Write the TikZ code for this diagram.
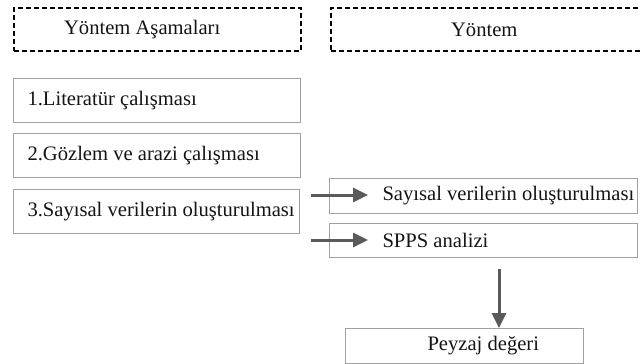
\documentclass[tikz,border=0pt]{standalone}
\usepackage{fontspec}
\setmainfont{Liberation Serif}
\usetikzlibrary{arrows.meta}
\definecolor{boxgray}{HTML}{A0A0A0}
\definecolor{arrowgray}{HTML}{5A5A5A}
\definecolor{txt}{HTML}{141414}
\tikzset{
  gbox/.style={draw=boxgray, line width=1pt, anchor=north west, inner ysep=0pt, text=txt, font=\fontsize{20.6}{22}\selectfont},
  dbox/.style={draw=black, line width=2.2pt, dash pattern=on 5pt off 3pt, anchor=north west, inner ysep=0pt, text=txt, font=\fontsize{20.6}{22}\selectfont},
  arr/.style={draw=arrowgray, line width=3pt, -{Triangle[length=15pt,width=14pt]}}
}
\begin{document}
\begin{tikzpicture}[x=1pt,y=-1pt]
\useasboundingbox (0,0) rectangle (640,364);
\clip (0,0) rectangle (640,364);
% headers
\node[dbox, minimum width=287pt, minimum height=43pt, inner xsep=50pt] (h1) at (13,7) {\makebox[187pt][l]{Yöntem Aşamaları}};
\node[dbox, minimum width=320pt, minimum height=43pt, inner xsep=120pt] (h2) at (330,7) {\makebox[80pt][l]{Yöntem}};
% left boxes
\node[gbox, minimum width=287pt, minimum height=44pt, inner xsep=14pt] (b1) at (13,78) {\makebox[259pt][l]{1.Literatür çalışması}};
\node[gbox, minimum width=287pt, minimum height=44pt, inner xsep=14pt] (b2) at (13,133) {\makebox[259pt][l]{2.Gözlem ve arazi çalışması}};
\node[gbox, minimum width=286pt, minimum height=44pt, inner xsep=14pt] (b3) at (13,189) {\makebox[258pt][l]{3.Sayısal verilerin oluşturulması}};
% right boxes
\node[gbox, minimum width=308pt, minimum height=35pt, inner xsep=53pt] (r1) at (329,178) {\makebox[202pt][l]{Sayısal verilerin oluşturulması}};
\node[gbox, minimum width=308pt, minimum height=34pt, inner xsep=53pt] (r2) at (329,223) {\makebox[202pt][l]{SPPS analizi}};
\node[gbox, minimum width=238pt, minimum height=35pt, inner xsep=82pt] (p) at (345,328) {\makebox[74pt][l]{Peyzaj değeri}};
% arrows
\coordinate (a1) at (311,195);
\coordinate (a2) at (311,240);
\coordinate (d1) at (499,269);
\draw[arr] (a1) -- (a1 -| 368,0);
\draw[arr] (a2) -- (a2 -| 368,0);
\draw[arr] (d1) -- (d1 |- p.north);
\end{tikzpicture}
\end{document}
